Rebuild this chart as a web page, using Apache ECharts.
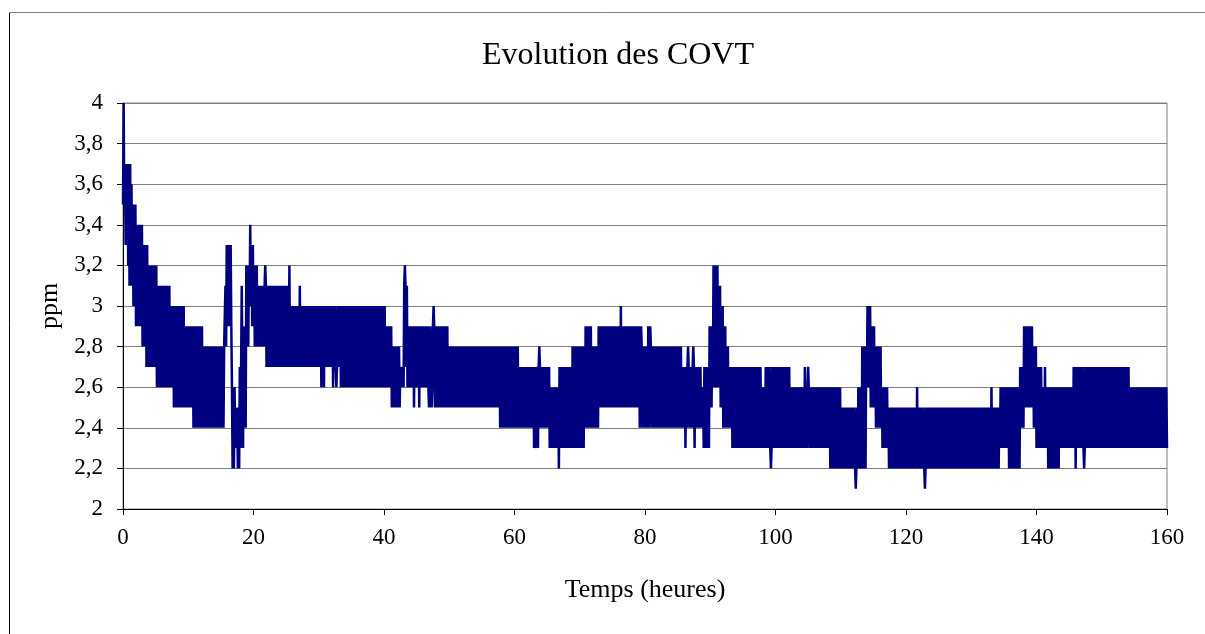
<!DOCTYPE html>
<html>
<head>
<meta charset="utf-8">
<script src="https://cdn.jsdelivr.net/npm/echarts@6/dist/echarts.min.js"></script>
<style>
html,body{margin:0;padding:0;background:#fff;}
#chart{width:1205px;height:634px;}
</style>
</head>
<body>
<div id="chart"></div>
<script>
// Envelope of the dense COVT signal (hours, ppm)
var segStart = [0, 0.25, 0.7, 1.0, 1.25, 1.5, 1.9, 2.1, 2.9, 3.1, 3.5, 3.8, 5.2, 7.2, 7.8, 9.5, 10.8, 12.2,
  15.6, 15.9, 16.7, 17.2, 17.6, 17.9, 18.5, 18.9, 19.4, 19.7, 20.1, 20.7, 22, 25.6, 33.3, 40.2, 41.2,
  42.5, 43.1, 43.6, 47.8, 49.9, 57.8, 60.6, 62.9, 63.8, 65.4, 66.9, 68.8, 70.8, 71.8, 72.9, 79.2, 85.6,
  88.7, 89.0, 89.9, 90.4, 91.2, 91.6, 92.0, 92.4, 92.8, 93.4, 97.9, 98.4, 102.2, 108.4, 110.1, 112.6,
  113.2, 114.0, 114.6, 115.3, 116.3, 117.3, 134.4, 135.7, 137.5, 138.1, 139.5, 140.0, 140.8, 141.8,
  143.6, 145.6, 154.3];
var segLow = [3.5, 3.3, 3.2, 3.1, 3.1, 3.0, 2.9, 2.9, 2.8, 2.8, 2.7, 2.7, 2.6, 2.6, 2.5, 2.5, 2.4, 2.4,
  2.8, 2.9, 2.2, 2.3, 2.2, 2.3, 2.4, 2.8, 3.0, 2.9, 2.8, 2.8, 2.7, 2.7, 2.6, 2.6, 2.5,
  2.6, 2.7, 2.6, 2.5, 2.5, 2.4, 2.4, 2.3, 2.4, 2.3, 2.3, 2.3, 2.4, 2.4, 2.5, 2.4, 2.4,
  2.4, 2.3, 2.5, 2.6, 2.6, 2.5, 2.4, 2.4, 2.4, 2.3, 2.3, 2.3, 2.3, 2.2, 2.2, 2.2,
  2.2, 2.6, 2.5, 2.4, 2.3, 2.2, 2.3, 2.2, 2.4, 2.5, 2.4, 2.3, 2.3, 2.2,
  2.3, 2.3, 2.3];
var segHigh = [4.0, 3.7, 3.7, 3.7, 3.6, 3.5, 3.5, 3.4, 3.4, 3.3, 3.3, 3.2, 3.1, 3.0, 3.0, 2.9, 2.9, 2.8,
  3.1, 3.3, 2.6, 2.5, 2.4, 2.7, 2.9, 3.2, 3.4, 3.3, 3.2, 3.1, 3.1, 3.0, 3.0, 2.9, 2.8,
  2.7, 3.1, 2.9, 2.9, 2.8, 2.8, 2.7, 2.7, 2.7, 2.6, 2.7, 2.8, 2.9, 2.8, 2.9, 2.8, 2.7,
  2.6, 2.7, 2.9, 3.2, 3.1, 3.0, 2.9, 2.8, 2.7, 2.7, 2.6, 2.7, 2.6, 2.6, 2.5, 2.6,
  2.8, 3.0, 2.9, 2.8, 2.6, 2.5, 2.6, 2.6, 2.7, 2.9, 2.8, 2.7, 2.6, 2.6,
  2.6, 2.7, 2.6];
// Isolated excursions (hours, ppm)
var spikeTime = [18.2, 21.8, 25.5, 27.1, 30.4, 30.8, 32.2, 32.7, 43.2, 44.6, 45.4, 46.9, 47.3, 47.6,
  63.3, 63.8, 66.8, 76.3, 79.4, 80.5, 80.8, 86.2, 86.6, 87.4, 87.6, 99.3, 104.5, 105.0, 112.3,
  121.7, 122.9, 133.1, 141.3, 146.0, 147.3];
var spikeValue = [3.1, 3.2, 3.2, 3.1, 2.6, 2.6, 2.6, 2.6, 3.2, 2.5, 2.5, 2.5, 2.5, 3.0,
  2.3, 2.8, 2.2, 3.0, 2.9, 2.9, 2.9, 2.3, 2.8, 2.8, 2.3, 2.2, 2.7, 2.7, 2.1,
  2.6, 2.1, 2.6, 2.7, 2.2, 2.2];
var xTicks = [0, 20, 40, 60, 80, 100, 120, 140, 160];
var yTicks = [2, 2.2, 2.4, 2.6, 2.8, 3, 3.2, 3.4, 3.6, 3.8, 4];

// Build the dense trace: the signal flips between the band's low and high levels
var step = 0.1;
var n = Math.round(160 / step);
var data = [];
var s = 0;
for (var k = 0; k <= n; k++) {
  var t = +(k * step).toFixed(2);
  while (s + 1 < segStart.length && t >= segStart[s + 1]) s++;
  data.push([t, (k % 2 === 0) ? segLow[s] : segHigh[s]]);
}
for (var j = 0; j < spikeTime.length; j++) {
  var idx = Math.round(spikeTime[j] / step);
  data[idx] = [data[idx][0], spikeValue[j]];
}

var chart = echarts.init(document.getElementById('chart'), null, {renderer: 'canvas'});
var serif = '"Liberation Serif", "Times New Roman", serif';
chart.setOption({
  animation: false,
  backgroundColor: '#ffffff',
  title: {
    text: 'Evolution des COVT',
    left: 613, top: 35, textAlign: 'center',
    textStyle: {fontFamily: serif, fontSize: 32, fontWeight: 'normal', color: '#000'}
  },
  graphic: [
    {type: 'line', shape: {x1: 9.5, y1: 12, x2: 9.5, y2: 640}, style: {stroke: '#000', lineWidth: 1}, silent: true},
    {type: 'line', shape: {x1: 9, y1: 12.5, x2: 1210, y2: 12.5}, style: {stroke: '#808080', lineWidth: 1}, silent: true}
  ],
  grid: {left: 123, right: 38, top: 103, bottom: 125, show: true, borderColor: '#808080', borderWidth: 1},
  xAxis: {
    type: 'value', min: xTicks[0], max: xTicks[xTicks.length - 1], interval: 20,
    name: 'Temps (heures)', nameLocation: 'middle', nameGap: 68,
    nameTextStyle: {fontFamily: serif, fontSize: 26, color: '#000'},
    axisLine: {show: true, lineStyle: {color: '#000', width: 1}},
    axisTick: {show: true, inside: false, length: 6, lineStyle: {color: '#000'}},
    axisLabel: {fontFamily: serif, fontSize: 23, color: '#000', margin: 17},
    splitLine: {show: false}
  },
  yAxis: {
    type: 'value', min: yTicks[0], max: yTicks[yTicks.length - 1], interval: 0.2,
    name: 'ppm', nameLocation: 'middle', nameGap: 58,
    nameTextStyle: {fontFamily: serif, fontSize: 26, color: '#000'},
    axisLine: {show: true, lineStyle: {color: '#000', width: 1}},
    axisTick: {show: true, inside: false, length: 6, lineStyle: {color: '#000'}},
    axisLabel: {fontFamily: serif, fontSize: 23, color: '#000', margin: 20,
      formatter: function (v) { return String(Math.round(v * 10) / 10).replace('.', ','); }},
    splitLine: {show: true, lineStyle: {color: '#808080', width: 1}}
  },
  series: [{
    type: 'line', data: data, showSymbol: false, symbol: 'none',
    lineStyle: {color: '#000080', width: 2.5}, itemStyle: {color: '#000080'},
    z: 3
  }]
});
</script>
</body>
</html>
